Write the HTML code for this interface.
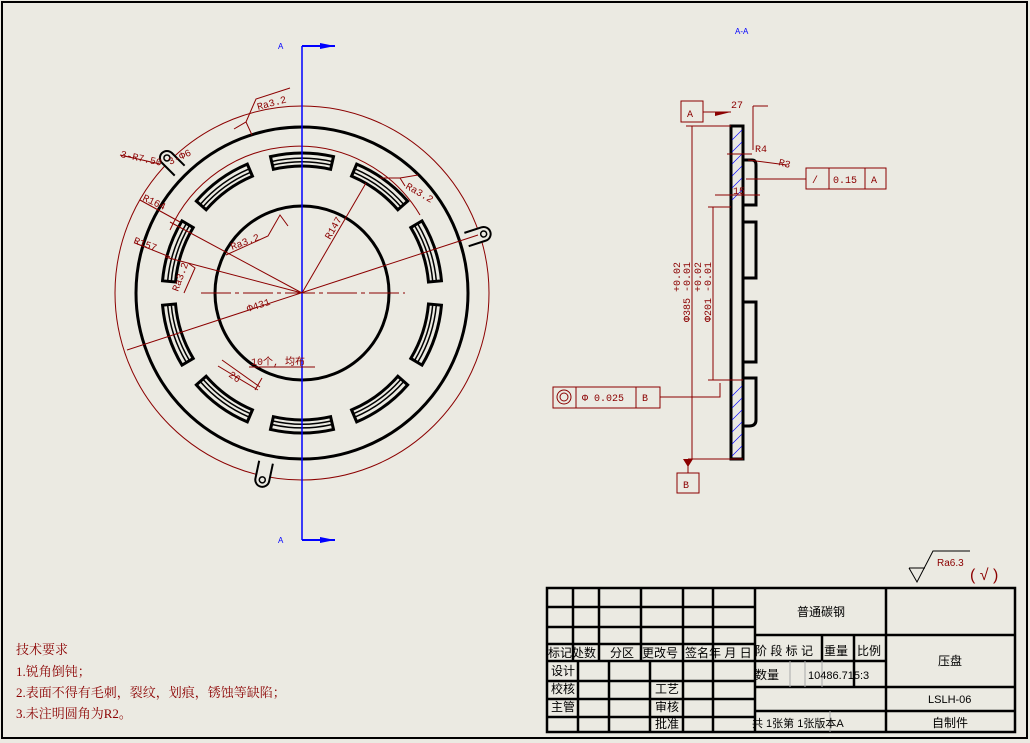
<!DOCTYPE html>
<html><head><meta charset="utf-8"><style>
html,body{margin:0;padding:0;background:#ebeae2;}
svg{display:block;font-family:"Liberation Sans","Noto Sans CJK SC",sans-serif;}
.r{stroke:#8b0000;fill:none;stroke-width:1}
.rt{fill:#8b0000;font-size:10px;font-family:"Liberation Mono","Noto Sans CJK SC",monospace}
.k{stroke:#000;fill:none;stroke-width:3}
.tx{font-size:12px;fill:#000;font-family:"Liberation Sans","Noto Sans CJK SC",sans-serif}
</style></head><body>
<svg width="1030" height="743" viewBox="0 0 1030 743" xmlns="http://www.w3.org/2000/svg">
<rect x="2" y="2" width="1025" height="736" fill="#ebeae2" stroke="#000" stroke-width="2"/>
<defs>
<g id="slot">
<path d="M270.5,156.6 A140 140 0 0 1 333.5,156.6 L330.6,169.3 A127 127 0 0 0 273.4,169.3 Z" fill="none" stroke="#000" stroke-width="3"/>
<path d="M272,161.5 A135 135 0 0 1 332,161.5" fill="none" stroke="#000" stroke-width="1.5"/>
<path d="M273,165 A131 131 0 0 1 331,165" fill="none" stroke="#000" stroke-width="1.5"/>
</g>
<g id="tab">
<path d="M295,128 L295,110 A7 7 0 0 1 309,110 L309,128" fill="#ebeae2" stroke="#000" stroke-width="2"/>
<circle cx="302" cy="110" r="3" fill="none" stroke="#000" stroke-width="1.5"/>
</g>
</defs>
<circle cx="302" cy="293" r="187" class="r"/>
<use href="#tab" transform="rotate(-45 302 293) translate(0 -8)"/>
<use href="#tab" transform="rotate(72 302 293) translate(0 -8)"/>
<use href="#tab" transform="rotate(192 302 293) translate(0 -8)"/>
<circle cx="302" cy="293" r="166" class="k"/>
<circle cx="302" cy="293" r="87" class="k"/>
<path d="M170,230 A141 141 0 0 1 420,215" class="r"/>
<use href="#slot"/>
<use href="#slot" transform="rotate(36 302 293)"/>
<use href="#slot" transform="rotate(72 302 293)"/>
<use href="#slot" transform="rotate(108 302 293)"/>
<use href="#slot" transform="rotate(144 302 293)"/>
<use href="#slot" transform="rotate(180 302 293)"/>
<use href="#slot" transform="rotate(216 302 293)"/>
<use href="#slot" transform="rotate(252 302 293)"/>
<use href="#slot" transform="rotate(288 302 293)"/>
<use href="#slot" transform="rotate(324 302 293)"/>
<line x1="201" y1="293" x2="405" y2="293" class="r" stroke-dasharray="30,4,4,4"/>
<line x1="302" y1="46" x2="302" y2="540" stroke="#0000ff" stroke-width="1.5"/>
<path d="M302,46 H335" stroke="#0000ff" stroke-width="2"/><path d="M320,43 L335,46 L320,49Z" fill="#0000ff"/>
<path d="M302,540 H335" stroke="#0000ff" stroke-width="2"/><path d="M320,537 L335,540 L320,543Z" fill="#0000ff"/>
<text x="278" y="49" font-size="8" fill="#0000ff">A</text>
<text x="278" y="543" font-size="8" fill="#0000ff">A</text>
<line x1="127" y1="350" x2="478" y2="235" class="r"/>
<line x1="302" y1="293" x2="366" y2="183" class="r"/>
<line x1="302" y1="293" x2="170" y2="222" class="r"/>
<line x1="302" y1="293" x2="165" y2="257" class="r"/>
<line x1="140" y1="200" x2="180" y2="222" class="r"/>
<line x1="135" y1="243" x2="170" y2="257" class="r"/>
<line x1="120" y1="155" x2="160" y2="164" class="r"/>
<text class="rt" x="120" y="157" transform="rotate(12 120 157)">3-R7.50</text>
<text class="rt" x="170" y="165" transform="rotate(-25 170 165)">3-Φ6</text>
<text class="rt" x="142" y="200" transform="rotate(25 142 200)">R164</text>
<text class="rt" x="133" y="243" transform="rotate(20 133 243)">R157</text>
<text class="rt" x="330" y="240" transform="rotate(-60 330 240)">R147</text>
<text class="rt" x="248" y="312" transform="rotate(-18 248 312)">Φ431</text>
<path d="M234,129 L246,122 L252,135 M246,122 L256,99 L290,88" class="r"/>
<text class="rt" x="258" y="110" transform="rotate(-15 258 110)">Ra3.2</text>
<path d="M226,255 L268,236 L280,215 L288,226" class="r"/>
<text class="rt" x="232" y="250" transform="rotate(-20 232 250)">Ra3.2</text>
<path d="M380,178 L400,178 L405,186 M400,178 L418,175" class="r"/>
<text class="rt" x="405" y="188" transform="rotate(30 405 188)">Ra3.2</text>
<path d="M184,293 L195,268 L188,263" class="r"/>
<text class="rt" x="178" y="292" transform="rotate(-70 178 292)">Ra3.2</text>
<path d="M249,367 H315" class="r"/><text class="rt" x="251" y="365" font-size="11">10个, 均布</text>
<path d="M218,366 L258,390 M222,360 L260,387 M255,390 L262,378" class="r"/>
<text class="rt" x="228" y="376" transform="rotate(35 228 376)">26</text>
<text x="735" y="34" font-size="8" fill="#0000ff">A-A</text>
<g fill="none" stroke="#000" stroke-width="3">
<rect x="731" y="126" width="12" height="333"/>
<path d="M743,160 H752 Q756,160 756,165 V205 H743"/>
<path d="M743,222 H756 V278 H743"/>
<path d="M743,302 H756 V362 H743"/>
<path d="M743,378 H756 V420 Q756,426 749,426 H743"/>
</g>
<g stroke="#0000ff" stroke-width="0.6">
<path d="M732,140 L742,130 M732,152 L742,142 M732,164 L742,154 M732,176 L742,166 M732,188 L742,178 M732,200 L742,190"/>
<path d="M732,396 L742,386 M732,408 L742,398 M732,420 L742,410 M732,432 L742,422 M732,444 L742,434 M732,456 L742,446"/>
</g>
<g class="r">
<rect x="681" y="101" width="22" height="21"/>
<line x1="703" y1="112" x2="731" y2="112"/>
<line x1="753" y1="106" x2="768" y2="106"/>
<line x1="753" y1="106" x2="753" y2="150"/>
<line x1="686" y1="126" x2="731" y2="126"/>
<line x1="692" y1="126" x2="692" y2="459"/>
<line x1="708" y1="207" x2="731" y2="207"/>
<line x1="713" y1="207" x2="713" y2="380"/>
<line x1="708" y1="380" x2="743" y2="380"/>
<line x1="688" y1="459" x2="743" y2="459"/>
<line x1="727" y1="154" x2="752" y2="154"/>
<line x1="748" y1="160" x2="787" y2="165"/>
<line x1="715" y1="195" x2="760" y2="195"/>
<rect x="806" y="168" width="80" height="21"/>
<line x1="829" y1="168" x2="829" y2="189"/><line x1="865" y1="168" x2="865" y2="189"/>
<line x1="746" y1="179" x2="806" y2="179"/>
<rect x="553" y="387" width="107" height="21"/>
<line x1="576" y1="387" x2="576" y2="408"/><line x1="636" y1="387" x2="636" y2="408"/>
<circle cx="564" cy="397" r="7"/><circle cx="564" cy="397" r="4"/>
<path d="M660,397 H720 V383"/>
<line x1="688" y1="465" x2="688" y2="473"/>
<rect x="677" y="473" width="22" height="20"/>
</g>
<path d="M683,459 L693,459 L688,467Z" fill="#8b0000"/>
<path d="M715,112 L731,112 L715,116Z" fill="#8b0000"/>
<text class="rt" x="687" y="117">A</text>
<text class="rt" x="683" y="488">B</text>
<text class="rt" x="731" y="108">27</text>
<text class="rt" x="755" y="152">R4</text>
<text class="rt" x="778" y="165" transform="rotate(15 778 165)">R3</text>
<text class="rt" x="733" y="194">15</text>
<text class="rt" x="812" y="183" font-size="11">/</text>
<text class="rt" x="833" y="183" font-size="11">0.15</text>
<text class="rt" x="871" y="183">A</text>
<text class="rt" x="582" y="401" font-size="11">Φ 0.025</text>
<text class="rt" x="642" y="401">B</text>
<text class="rt" x="690" y="322" transform="rotate(-90 690 322)">Φ385 -0.01</text>
<text class="rt" x="680" y="292" transform="rotate(-90 680 292)">+0.02</text>
<text class="rt" x="711" y="322" transform="rotate(-90 711 322)">Φ201 -0.01</text>
<text class="rt" x="701" y="292" transform="rotate(-90 701 292)">+0.02</text>
<path d="M909,568 L917,582 L933,551 H970" stroke="#000" fill="none" stroke-width="1"/>
<line x1="909" y1="568" x2="925" y2="568" stroke="#000"/>
<text x="937" y="566" font-size="10" fill="#8b0000">Ra6.3</text>
<text x="970" y="580" font-size="16" fill="#8b0000">( √ )</text>
<g fill="#8b0000" font-size="13" font-family="'Liberation Serif','Noto Serif CJK SC',serif">
<text x="16" y="654">技术要求</text>
<text x="16" y="676">1.锐角倒钝；</text>
<text x="16" y="697">2.表面不得有毛刺，裂纹，划痕，锈蚀等缺陷；</text>
<text x="16" y="718">3.未注明圆角为R2。</text>
</g>
<g stroke="#000" stroke-width="2.5" fill="none">
<rect x="547" y="588" width="468" height="144"/>
<path d="M547,607 H755 M547,627 H755 M547,644 H755 M547,661 H755 M547,681 H755 M547,699 H755 M547,717 H755"/>
<path d="M573,588 V661 M599,588 V661 M641,588 V661 M683,588 V661 M713,588 V661 M755,588 V732"/>
<path d="M578,661 V732 M609,661 V732 M650,661 V732 M683,661 V732 M713,661 V732"/>
<path d="M755,635 H1015 M755,661 H886 M755,687 H1015 M755,711 H1015 M886,588 V732 M822,635 V661 M854,635 V687"/>
</g>
<path d="M790,661 V687 M805,661 V687 M822,661 V687 M830,711 V732" stroke="#aaa" stroke-width="1"/>
<g class="tx">
<text x="797" y="616">普通碳钢</text>
<text x="548" y="657" font-size="12">标记处数</text>
<text x="610" y="657">分区</text>
<text x="642" y="657">更改号</text>
<text x="685" y="657">签名年 月 日</text>
<text x="755" y="655">阶 段 标 记</text>
<text x="824" y="655">重量</text>
<text x="857" y="655">比例</text>
<text x="938" y="665">压盘</text>
<text x="551" y="675">设计</text>
<text x="755" y="679">数量</text>
<text x="808" y="679" font-size="11">10486.715:3</text>
<text x="551" y="693">校核</text><text x="655" y="693">工艺</text>
<text x="551" y="711">主管</text><text x="655" y="711">审核</text>
<text x="655" y="728">批准</text>
<text x="928" y="703" font-size="11">LSLH-06</text>
<text x="752" y="727" font-size="11">共 1张第 1张版本A</text>
<text x="932" y="727">自制件</text>
</g>
</svg>
</body></html>
